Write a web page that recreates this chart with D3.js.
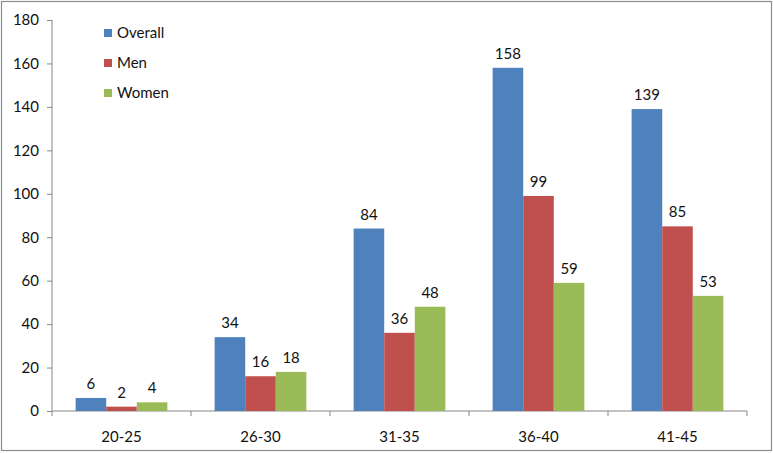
<!DOCTYPE html>
<html>
<head>
<meta charset="utf-8">
<script src="https://cdn.jsdelivr.net/npm/d3@7"></script>
<style>
	body { margin: 0; background: #fff; }
	text { font-family: Lato, 'Open Sans', sans-serif; fill: #111; }
</style>
</head>
<body>
<div id="chart"></div>
<script>
const ageGroups = ['20-25', '26-30', '31-35', '36-40', '41-45'];
const seriesNames = ['Overall', 'Men', 'Women'];
const overall = [6, 34, 84, 158, 139];
const men = [2, 16, 36, 99, 85];
const women = [4, 18, 48, 59, 53];
const yTicks = [0, 20, 40, 60, 80, 100, 120, 140, 160, 180];
const colors = ['#4F81BD', '#C0504D', '#9BBB59'];

const w = 773;
const h = 453;
const margin = { top: 20, right: 26, bottom: 42, left: 52 };
const fontSize = '15px';

const svg = d3.select('#chart').append('svg')
	.attr('width', w)
	.attr('height', h);

svg.append('rect')
	.attr('x', 1.5)
	.attr('y', 1.5)
	.attr('width', w - 3)
	.attr('height', h - 4)
	.attr('fill', '#fff')
	.attr('stroke', '#8c8c8c')
	.attr('stroke-width', 1.2);

const x = d3.scaleBand()
	.domain(ageGroups)
	.range([margin.left, w - margin.right])
	.paddingInner(0.34)
	.paddingOuter(0.17);

const xSub = d3.scaleBand()
	.domain(seriesNames)
	.range([0, x.bandwidth()]);

const y = d3.scaleLinear()
	.domain([0, 180])
	.range([h - margin.bottom, margin.top]);

const step = x.step();

// axes
const yAxis = svg.append('g')
	.attr('transform', `translate(${margin.left},0)`)
	.call(d3.axisLeft(y).tickValues(yTicks).tickSize(5).tickPadding(8));

yAxis.selectAll('text').style('font-size', fontSize);

const xAxis = svg.append('g')
	.attr('transform', `translate(0,${y(0)})`);

xAxis.append('line')
	.attr('x1', margin.left)
	.attr('x2', w - margin.right)
	.attr('stroke', '#868686');

xAxis.selectAll('line.tick')
	.data(d3.range(ageGroups.length + 1))
	.join('line')
	.attr('class', 'tick')
	.attr('x1', d => margin.left + d * step)
	.attr('x2', d => margin.left + d * step)
	.attr('y2', 5)
	.attr('stroke', '#868686');

xAxis.selectAll('text')
	.data(ageGroups)
	.join('text')
	.attr('x', d => x(d) + x.bandwidth() / 2)
	.attr('y', 31)
	.attr('text-anchor', 'middle')
	.style('font-size', fontSize)
	.text(d => d);

yAxis.selectAll('line, path').attr('stroke', '#868686');
yAxis.select('.domain').attr('d', `M0,${y(0)}V${margin.top}`);

// bars
const series = [overall, men, women];

const groups = svg.selectAll('g.series')
	.data(series)
	.join('g')
	.attr('class', 'series')
	.attr('fill', (d, i) => colors[i]);

groups.each(function (vals, i) {
	const g = d3.select(this);
	g.selectAll('rect')
		.data(vals)
		.join('rect')
		.attr('x', (d, j) => x(ageGroups[j]) + xSub(seriesNames[i]))
		.attr('y', d => y(d))
		.attr('width', xSub.bandwidth())
		.attr('height', d => y(0) - y(d));

	g.selectAll('text')
		.data(vals)
		.join('text')
		.attr('x', (d, j) => x(ageGroups[j]) + xSub(seriesNames[i]) + xSub.bandwidth() / 2)
		.attr('y', d => y(d) - 9)
		.attr('text-anchor', 'middle')
		.style('font-size', fontSize)
		.text(d => d);
});

// legend
const legend = svg.append('g')
	.attr('transform', 'translate(104,33)');

const item = legend.selectAll('g')
	.data(seriesNames)
	.join('g')
	.attr('transform', (d, i) => `translate(0,${i * 30})`);

item.append('rect')
	.attr('y', -4)
	.attr('width', 8)
	.attr('height', 8)
	.attr('fill', (d, i) => colors[i]);

item.append('text')
	.attr('x', 13)
	.attr('dy', '0.35em')
	.style('font-size', fontSize)
	.text(d => d);
</script>
</body>
</html>
